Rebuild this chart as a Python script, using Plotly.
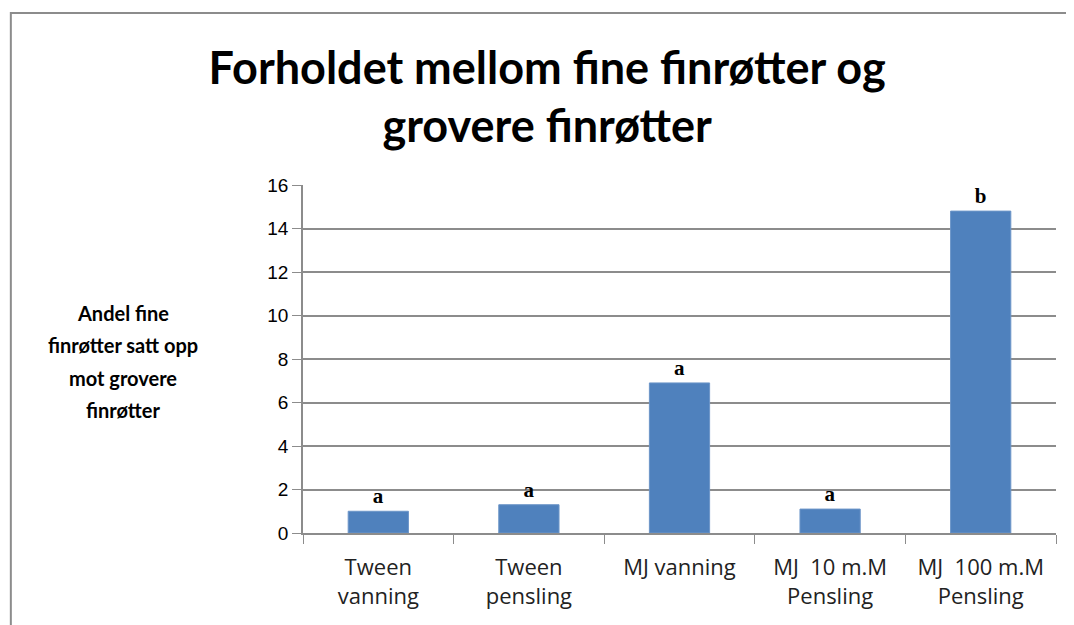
import plotly.graph_objects as go

categories = ["Tween<br>vanning", "Tween<br>pensling", "MJ vanning", "MJ  10 m.M<br>Pensling", "MJ  100 m.M<br>Pensling"]
values = [1.0, 1.3, 6.9, 1.1, 14.8]
letters = ["a", "a", "a", "a", "b"]
y_ticks = [0, 2, 4, 6, 8, 10, 12, 14, 16]
y_title_lines = ["Andel fine", "finrøtter satt opp", "mot grovere", "finrøtter"]

fig = go.Figure()
fig.add_trace(go.Bar(
    x=categories, y=values, text=["<b>" + s + "</b>" for s in letters],
    textposition="outside", cliponaxis=False,
    textfont=dict(family="Liberation Serif", size=21, color="#000000"),
    marker=dict(color="#4F81BD", line=dict(color="#6C95C8", width=1)),
    width=0.40,
))

fig.update_layout(
    width=1074, height=625,
    margin=dict(l=295, r=26, t=177, b=100),
    paper_bgcolor="white", plot_bgcolor="white",
    showlegend=False,
    font=dict(family="Lato", color="#000000"),
    title=dict(
        text="<b>Forholdet mellom fine finrøtter og<br>grovere finrøtter</b>",
        x=0.502, xanchor="center", y=0.879, yanchor="middle",
        font=dict(family="Lato", size=45, color="#000000"),
    ),
)
fig.update_yaxes(
    range=[0, 16], tickvals=y_ticks,
    showgrid=True, gridcolor="#8C8C8C", gridwidth=1.5,
    showline=True, linecolor="#8C8C8C", linewidth=1.5,
    ticks="outside", ticklen=9, tickcolor="#8C8C8C",
    tickfont=dict(family="Liberation Sans", size=19, color="#000000"),
    zeroline=False,
)
fig.update_xaxes(
    showline=True, linecolor="#8C8C8C", linewidth=1.5,
    ticks="outside", ticklen=9, tickcolor="#8C8C8C", tickson="boundaries",
    tickfont=dict(family="Open Sans", size=22, color="#222222"),
    ticklabelstandoff=14,
)
y_title_pos = [0.632, 0.540, 0.445, 0.353]
for line, yp in zip(y_title_lines, y_title_pos):
    fig.add_annotation(
        text="<b>" + line + "</b>",
        xref="paper", yref="paper", x=-0.239, y=yp, xanchor="center", yanchor="middle",
        showarrow=False, align="center",
        font=dict(family="Lato", size=20, color="#000000"),
    )
fig.add_shape(type="rect", xref="paper", yref="paper",
              x0=-0.388, y0=-0.5, x1=1.2, y1=1.494,
              line=dict(color="#8C8C8C", width=2))

fig.write_html("out.html")
